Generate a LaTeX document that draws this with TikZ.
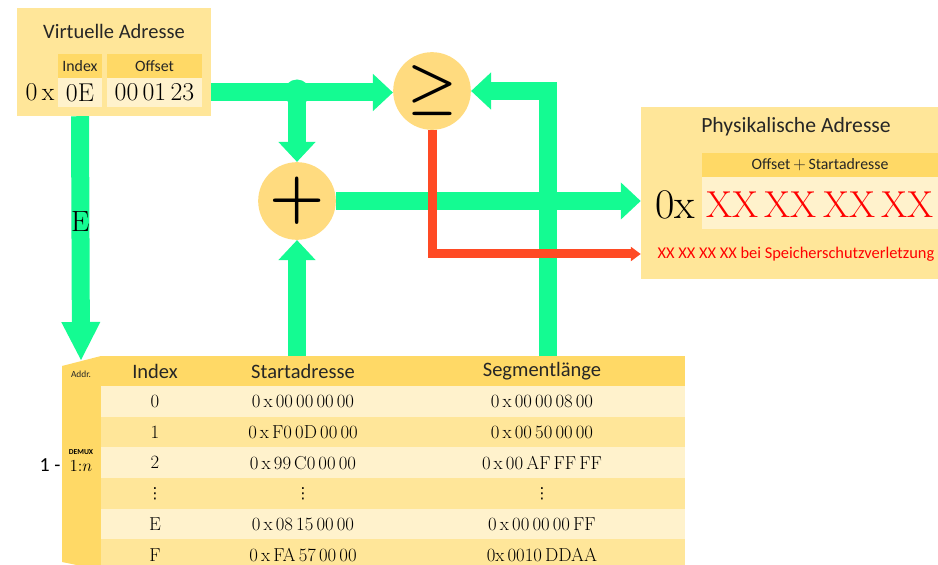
\documentclass[tikz,border=0pt]{standalone}
\usepackage{fontspec}
\usepackage{amsmath}
\usepackage{graphicx}
\usetikzlibrary{arrows.meta}
\newfontfamily\calibri{Carlito}
\newfontfamily\symfont{DejaVu Sans}

\definecolor{boxfill}{HTML}{FFE699}
\definecolor{headfill}{HTML}{FFD966}
\definecolor{cellfill}{HTML}{FFF2CC}
\definecolor{opfill}{HTML}{FFDB7F}
\definecolor{flowgreen}{HTML}{14FB92}
\definecolor{alarmred}{HTML}{FF4A24}
\definecolor{txtgray}{HTML}{262626}

\tikzset{
  box/.style={fill=boxfill, inner sep=0pt},
  head/.style={fill=headfill, inner sep=0pt, font=\calibri\fontsize{13.5}{15}\selectfont, text=txtgray},
  val/.style={fill=cellfill, inner sep=0pt},
  title/.style={font=\calibri\fontsize{17.5}{20}\selectfont, text=txtgray},
  colhead/.style={font=\calibri\fontsize{17.5}{20}\selectfont, text=txtgray},
  num/.style={font=\fontsize{16}{18}\selectfont, inner sep=1pt},
  dots/.style={font=\symfont\fontsize{13}{13}\selectfont, inner sep=1pt},
  row/.style={fill=#1, minimum width=17.52cm, minimum height=0.92cm, inner sep=0pt},
  op/.style={circle, fill=opfill, inner sep=0pt, minimum size=2.33cm, font=\boldmath\fontsize{20}{20}\selectfont},
  flow/.style={draw=flowgreen, line width=0.54cm, -{Triangle[width=1.08cm,length=0.6cm]}},
  longtip/.style={-{Triangle[width=1.08cm,length=1.17cm]}},
  alarm/.style={draw=alarmred, line width=0.27cm, -{Triangle[width=0.42cm,length=0.3cm]}}
}

\begin{document}
\begin{tikzpicture}[x=0.03cm, y=-0.03cm]
        \useasboundingbox (0,0) rectangle (938,565);

        % virtuelle Adresse
        \node[box, minimum width=5.82cm, minimum height=3.24cm] (virt) at (114,62) {};
        \node[title] (virtT) at (114,31) {Virtuelle Adresse};
        \node[head, minimum width=1.32cm, minimum height=0.72cm] (idxH) at (80,66) {Index};
        \node[head, minimum width=2.85cm, minimum height=0.72cm] (offH) at (154.5,66) {Offset};
        \node[val, minimum width=1.32cm, minimum height=0.87cm, font=\fontsize{22}{24}\selectfont] (idxV) at (80,92.5) {0E};
        \node[val, minimum width=2.85cm, minimum height=0.87cm, font=\fontsize{22}{24}\selectfont] (offV) at (154.5,92.5) {00\,01\,23};
        \node[font=\fontsize{22}{24}\selectfont] (virtPre) at (40,92) {0\,x};

        % physikalische Adresse
        \node[box, minimum width=8.91cm, minimum height=5.16cm] (phys) at (789.5,193) {};
        \node[title, font=\calibri\fontsize{18.5}{21}\selectfont] (physT) at (796,127) {Physikalische Adresse};
        \node[head, minimum width=7.08cm, minimum height=0.72cm] (sumH) at (820,165) {Offset\,$+$\,Startadresse};
        \node[val, minimum width=7.08cm, minimum height=1.56cm] (sumV) at (820,203) {};
        \node[font=\fontsize{36}{38}\selectfont] (physPre) at (675,205) {0x};
        \node[font=\fontsize{32}{34}\selectfont, text=red] (physVal) at (820,205) {XX\,XX\,XX\,XX};
        \node[font=\calibri\fontsize{14}{16}\selectfont, text=red] (redT) at (796,254) {XX XX XX XX bei Speicherschutzverletzung};

        % Segmenttabelle
        \fill[headfill] (62,366) -- (101,356) -- (101,570) -- (62,562) -- cycle;
        \coordinate (addrIn) at (81,361);
        \node[font=\calibri\fontsize{8}{9}\selectfont, text=txtgray] (addr) at (81,374) {Addr.};
        \node[font=\calibri\bfseries\fontsize{6.5}{7}\selectfont] (demux) at (81,452) {DEMUX};
        \node[font=\fontsize{14}{16}\selectfont] (ratio) at (81,466) {$1{:}n$};
        \node[font=\calibri\fontsize{17}{19}\selectfont] (sel) at (50,465) {1 -};

        \node[row=headfill, minimum height=0.9cm] (tabH) at (393,371) {};
        \node[colhead] (hIdx) at (155,371) {Index};
        \node[colhead] (hStart) at (303,371) {Startadresse};
        \node[colhead] (hSeg) at (542,371) {Segmentlänge};

        \node[row=cellfill] (r0) at (393,401.3) {};
        \node[row=boxfill] (r1) at (393,432) {};
        \node[row=cellfill] (r2) at (393,462.7) {};
        \node[row=boxfill] (r3) at (393,493.3) {};
        \node[row=cellfill] (r4) at (393,524) {};
        \node[row=boxfill] (r5) at (393,554.7) {};

        \node[num] (i0) at (r0 -| hIdx) {0};
        \node[num] (s0) at (r0 -| hStart) {0\,x\,00\,00\,00\,00};
        \node[num] (l0) at (r0 -| hSeg) {0\,x\,00\,00\,08\,00};
        \node[num] (i1) at (r1 -| hIdx) {1};
        \node[num] (s1) at (r1 -| hStart) {0\,x\,F0\,0D\,00\,00};
        \node[num] (l1) at (r1 -| hSeg) {0\,x\,00\,50\,00\,00};
        \node[num] (i2) at (r2 -| hIdx) {2};
        \node[num] (s2) at (r2 -| hStart) {0\,x\,99\,C0\,00\,00};
        \node[num] (l2) at (r2 -| hSeg) {0\,x\,00\,AF\,FF\,FF};
        \node[dots] (i3) at (r3 -| hIdx) {⋮};
        \node[dots] (s3) at (r3 -| hStart) {⋮};
        \node[dots] (l3) at (r3 -| hSeg) {⋮};
        \node[num] (i4) at (r4 -| hIdx) {E};
        \node[num] (s4) at (r4 -| hStart) {0\,x\,08\,15\,00\,00};
        \node[num] (l4) at (r4 -| hSeg) {0\,x\,00\,00\,00\,FF};
        \node[num] (i5) at (r5 -| hIdx) {F};
        \node[num] (s5) at (r5 -| hStart) {0\,x\,FA\,57\,00\,00};
        \node[num] (l5) at (r5 -| hSeg) {0x\,0010\,DDAA};

        % Rechenwerk
        \node[op] (geq) at (432,91) {\scalebox{2.3}{$\geq$}};
        \node[op] (plus) at (297,201) {\scalebox{2.6}{$+$}};
        \coordinate (split) at (plus |- offV);
        \coordinate (segOut) at (548,356);

        \draw[flow, longtip] (idxV |- virt.south) -- (addrIn) node[pos=0.43, font=\fontsize{25}{27}\selectfont] (sel label) {E};
        \draw[flow] (offV -| virt.east) -- (offV -| geq.west);
        \fill[flowgreen] (split) circle (0.39cm);
        \draw[flow] (split) -- (plus.north);
        \draw[flow] (tabH.north -| plus) -- (plus.south);
        \draw[flow] (plus.east) -- (plus -| phys.west);
        \draw[flow] (segOut) |- (geq.east);
        \draw[alarm] (geq.south) |- (redT -| phys.west);
\end{tikzpicture}
\end{document}
